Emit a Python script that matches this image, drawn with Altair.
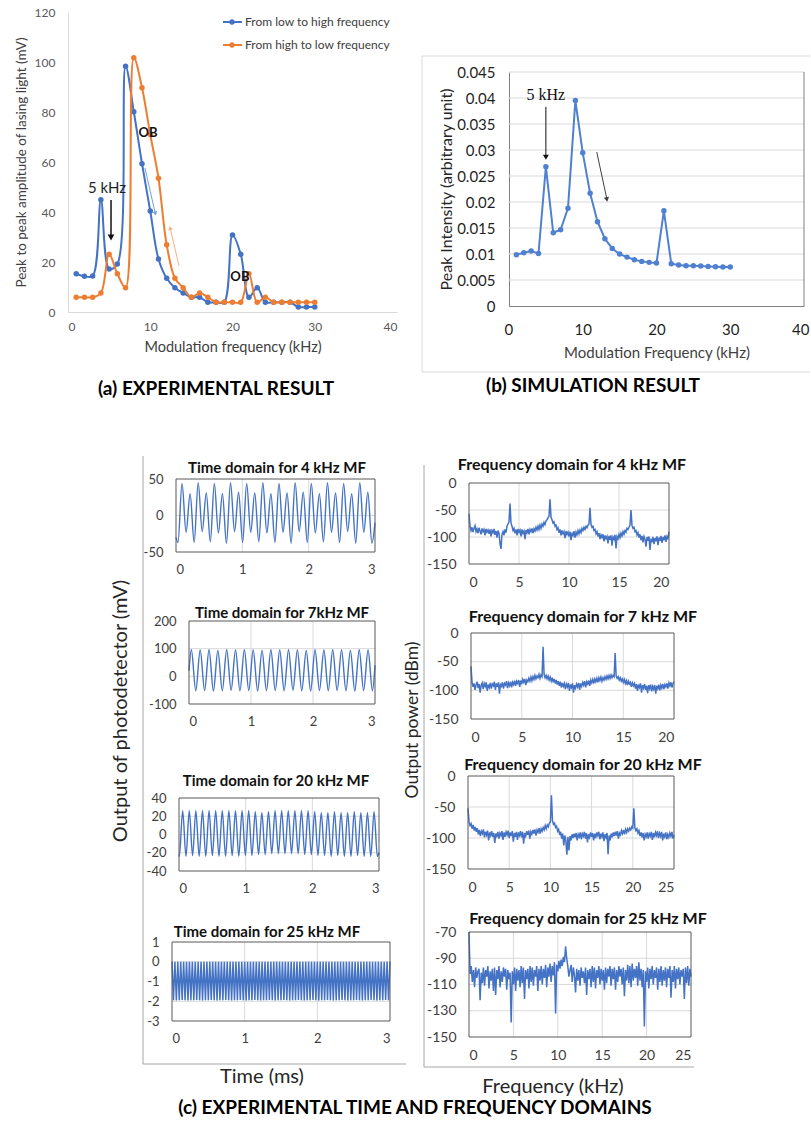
import altair as alt
import pandas as pd

W, H = 811, 1128
FONT = "Lato"
SERIF = "Liberation Serif"
BLUE = "#4472C4"
ORANGE = "#ED7D31"
SIM_BLUE = "#4F81D0"
GRID = "#D9D9D9"
FRAME = "#595959"
INK = "#1f1f1f"
LABEL = "#404040"
ONE = pd.DataFrame({"k": [0]})

# ---------------- (a) experimental sweep ----------------
mf_khz = list(range(1, 31))
SWEEP_UP = "From low to high frequency"
SWEEP_DOWN = "From high to low frequency"
low_to_high = [15.3, 14.3, 14.4, 44.9, 17.2, 19.2, 98.3, 80.1, 59.3, 40.4,
               21.2, 13.5, 9.7, 7.6, 5.9, 5.9, 3.9, 3.9, 3.9, 30.8,
               23.1, 5.9, 9.7, 3.9, 3.9, 3.9, 3.9, 2.0, 2.0, 2.0]
high_to_low = [5.9, 5.9, 5.9, 7.6, 23.1, 15.3, 9.7, 101.7, 89.7, 71.0,
               53.5, 26.9, 13.5, 9.7, 5.9, 7.6, 5.9, 3.9, 3.9, 3.9,
               3.9, 15.3, 3.9, 5.9, 3.9, 3.9, 3.9, 3.9, 3.9, 3.9]

# ---------------- (b) simulation ----------------
sim_peak = [0.00986, 0.01024, 0.01056, 0.0101, 0.02676, 0.01408, 0.01466, 0.01882, 0.0395, 0.02945,
            0.0217, 0.0162, 0.01293, 0.01107, 0.00999, 0.0094, 0.0089, 0.00858, 0.00839, 0.00826,
            0.01831, 0.00813, 0.00787, 0.00775, 0.00775, 0.00768, 0.00762, 0.00755, 0.00749, 0.00749]

# ---------------- (c) time-domain traces: successive extrema (mV) ----------------
td4_extrema = [-37, 44, -23, 30, -37, 45, -22, 31, -36, 44, -24, 30,
               -38, 45, -22, 32, -37, 44, -23, 31, -36, 45, -24, 30,
               -37, 44, -23, 31, -38, 45, -22, 32, -37, 44, -24, 30,
               -36, 45, -23, 31, -37, 44, -22, 30, -38, 45, -23, 32, -38]
td4_t0, td4_half, td4_start, td4_end = 0.03, 0.0609, -30, -10

td7_peaks = [96, 95, 96, 94, 96, 95, 96, 95, 94, 96, 95, 96, 95, 94, 96, 95, 96, 95, 94, 96, 95]
td7_troughs = [-52, -51, -53, -52, -50, -52, -51, -53, -52, -51, -52, -50, -52, -53, -51, -52, -51, -52, -53, -51, -52]
td7_t0, td7_half, td7_start, td7_end = 0.038, 0.07125, 20, 40

td20_troughs = [-24, -24, -23, -24, -24, -23, -24, -24, -23, -24, -23, -23, -22, -22, -21, -21,
                -21, -21, -21, -22, -22, -23, -23, -24, -23, -24, -24, -23, -24, -24, -24]
td20_peaks = [26, 26, 26, 26, 26, 26, 26, 26, 26, 26, 26, 25, 24, 25, 26,
              26, 26, 26, 26, 26, 25, 24, 24, 25, 24, 24, 25, 24, 24, 25]
td20_t0, td20_half, td20_start, td20_end = 0.0055, 0.0495, -22, -20

td25_peaks = [0.0, 0.0, 0.0, 0.0, 0.0, 0.0, 0.0, 0.0, 0.0, 0.0, 0.0, 0.0, 0.0, 0.0, 0.0, 0.0, 0.0, 0.0, 0.0,
              0.0, 0.0, 0.0, 0.0, 0.0, 0.0, 0.0, 0.0, 0.0, 0.0, 0.0, 0.0, 0.0, 0.0, 0.0, 0.0, 0.0, 0.0, 0.0,
              0.0, 0.0, 0.0, 0.0, 0.0, 0.0, 0.0, 0.0, 0.0, 0.0, 0.0, 0.0, 0.0, 0.0, 0.0, 0.0, 0.0, 0.0, 0.0,
              0.0, 0.0, 0.0, 0.0, 0.0, 0.0, 0.0, 0.0, 0.0, 0.0, 0.0, 0.0, 0.0, 0.0, 0.0, 0.0, 0.0, 0.0, 0.0]
td25_troughs = [-1.95, -1.96, -1.95, -1.94, -1.95, -1.96, -1.95, -1.95, -1.94, -1.95, -1.96, -1.95, -1.95, -1.94, -1.95,
                -1.96, -1.95, -1.95, -1.94, -1.95, -1.96, -1.95, -1.95, -1.94, -1.95, -1.96, -1.95, -1.95, -1.94, -1.95,
                -1.96, -1.95, -1.95, -1.94, -1.95, -1.96, -1.95, -1.95, -1.94, -1.95, -1.96, -1.95, -1.95, -1.94, -1.95,
                -1.96, -1.95, -1.95, -1.94, -1.95, -1.96, -1.95, -1.95, -1.94, -1.95, -1.96, -1.95, -1.95, -1.94, -1.95,
                -1.96, -1.95, -1.95, -1.94, -1.95, -1.96, -1.95, -1.95, -1.94, -1.95, -1.96, -1.95, -1.95, -1.94, -1.95]
td25_half = 0.02

# ---------------- (c) spectra (dBm) ----------------
# 4 kHz and 7 kHz MF: 0.1 kHz bins from 0 to 20 kHz (one row per kHz)
fd4 = [-57, -80, -88, -82, -91, -84, -79, -90, -85, -93,
       -83, -89, -95, -84, -90, -86, -97, -85, -91, -87,
       -94, -86, -99, -88, -92, -85, -96, -89, -101, -88,
       -93, -112, -122, -95, -90, -97, -86, -92, -80, -76,
       -72, -38, -74, -80, -88, -84, -93, -86, -97, -85,
       -91, -87, -99, -86, -93, -89, -104, -87, -92, -85,
       -95, -86, -90, -84, -93, -85, -89, -82, -87, -80,
       -86, -78, -84, -76, -80, -73, -77, -70, -68, -64,
       -62, -30, -63, -68, -74, -72, -80, -78, -86, -83,
       -92, -86, -97, -88, -94, -90, -102, -89, -95, -91,
       -99, -90, -106, -92, -97, -89, -101, -91, -96, -88,
       -94, -87, -92, -84, -88, -82, -86, -80, -83, -78,
       -76, -46, -77, -82, -80, -88, -86, -94, -90, -99,
       -93, -104, -96, -101, -95, -108, -97, -103, -99, -112,
       -98, -105, -97, -116, -100, -104, -96, -121, -99, -103,
       -95, -101, -93, -98, -90, -95, -88, -91, -84, -86,
       -82, -78, -50, -79, -84, -82, -90, -88, -96, -92,
       -101, -95, -106, -98, -110, -99, -104, -118, -100, -107,
       -99, -124, -103, -110, -100, -113, -102, -108, -99, -115,
       -101, -107, -98, -111, -100, -106, -97, -109, -99, -104,
       -90]
fd7 = [-58, -86, -94, -88, -99, -90, -85, -96, -89, -104,
       -91, -87, -98, -88, -93, -86, -101, -90, -95, -87,
       -97, -89, -92, -85, -99, -88, -94, -86, -106, -90,
       -93, -86, -97, -88, -91, -84, -96, -87, -92, -85,
       -95, -86, -90, -83, -92, -84, -88, -82, -94, -83,
       -89, -81, -86, -80, -91, -82, -85, -79, -84, -77,
       -83, -76, -81, -74, -80, -75, -78, -72, -79, -73,
       -76, -24, -72, -78, -74, -80, -75, -82, -77, -84,
       -78, -86, -80, -88, -82, -90, -84, -92, -85, -95,
       -87, -93, -88, -98, -89, -94, -87, -101, -90, -95,
       -88, -104, -91, -96, -89, -94, -87, -99, -88, -93,
       -86, -91, -84, -95, -85, -89, -83, -92, -82, -87,
       -81, -88, -80, -85, -79, -86, -78, -83, -77, -84,
       -78, -82, -76, -81, -75, -80, -74, -79, -73, -78,
       -74, -76, -35, -75, -79, -76, -82, -78, -84, -80,
       -86, -81, -88, -83, -91, -84, -89, -86, -94, -87,
       -92, -88, -97, -89, -101, -90, -95, -88, -104, -91,
       -96, -89, -99, -92, -105, -91, -97, -90, -102, -93,
       -98, -91, -106, -92, -97, -90, -100, -91, -96, -89,
       -98, -90, -94, -88, -97, -87, -92, -86, -95, -88,
       -85]
# 20 kHz and 25 kHz MF: 0.125 kHz bins from 0 to 25 kHz (one row per kHz)
fd20 = [-52, -74, -80, -77, -85, -79, -88, -82,
        -90, -84, -94, -87, -97, -89, -93, -86,
        -99, -90, -95, -88, -104, -91, -96, -89,
        -98, -92, -108, -93, -97, -90, -101, -92,
        -96, -89, -103, -91, -98, -90, -95, -88,
        -100, -91, -97, -89, -106, -92, -98, -90,
        -103, -91, -96, -89, -99, -90, -109, -92,
        -97, -89, -95, -88, -101, -90, -94, -87,
        -93, -86, -96, -87, -91, -84, -93, -85,
        -89, -83, -87, -80, -85, -79, -82, -76,
        -74, -31, -72, -78, -76, -83, -81, -89,
        -86, -95, -90, -101, -93, -112, -96, -104,
        -127, -98, -120, -97, -104, -94, -100, -93,
        -99, -92, -104, -94, -98, -91, -102, -93,
        -97, -90, -101, -92, -107, -94, -99, -91,
        -98, -92, -104, -93, -100, -91, -96, -90,
        -102, -93, -98, -91, -105, -94, -99, -92,
        -126, -96, -104, -93, -99, -91, -97, -90,
        -96, -89, -101, -92, -95, -88, -93, -87,
        -94, -86, -91, -85, -89, -84, -87, -82,
        -84, -52, -83, -88, -85, -92, -88, -97,
        -91, -99, -92, -104, -94, -98, -91, -101,
        -93, -97, -90, -103, -92, -99, -91, -96,
        -89, -100, -92, -97, -90, -104, -93, -98,
        -91, -102, -94, -99, -92, -97, -90, -101,
        -95]
fd25 = [-70, -102, -96, -108, -99, -112, -97, -105,
        -100, -98, -122, -101, -109, -97, -111, -99,
        -104, -96, -113, -100, -107, -98, -115, -97,
        -118, -99, -106, -96, -112, -100, -108, -97,
        -104, -98, -114, -99, -106, -101, -139, -100,
        -110, -97, -115, -98, -107, -99, -112, -96,
        -109, -97, -121, -99, -106, -98, -113, -96,
        -108, -97, -111, -99, -104, -96, -115, -98,
        -107, -96, -110, -98, -105, -95, -112, -97,
        -104, -94, -108, -96, -103, -93, -132, -95,
        -100, -92, -98, -91, -96, -89, -93, -81,
        -90, -96, -104, -99, -95, -108, -97, -103,
        -116, -98, -107, -99, -111, -97, -105, -100,
        -109, -97, -118, -99, -106, -98, -112, -96,
        -108, -97, -113, -99, -105, -96, -110, -98,
        -107, -99, -114, -97, -109, -98, -104, -96,
        -111, -98, -106, -97, -114, -99, -108, -96,
        -104, -98, -110, -97, -119, -99, -107, -95,
        -109, -96, -112, -94, -107, -98, -105, -96,
        -111, -93, -107, -98, -112, -99, -142, -100,
        -108, -97, -113, -98, -106, -96, -110, -99,
        -105, -97, -114, -98, -108, -96, -111, -99,
        -107, -97, -112, -98, -105, -96, -120, -99,
        -108, -96, -113, -98, -106, -97, -110, -99,
        -104, -98, -121, -97, -109, -96, -111, -98,
        -104]


# ---------------- helpers ----------------
def txt(x, y, s, size, weight="normal", color=INK, angle=0, font=FONT, align="center", baseline="middle"):
    return alt.Chart(ONE).mark_text(text=s, fontSize=size, fontWeight=weight, color=color, angle=angle,
                                    font=font, align=align, baseline=baseline).encode(
        x=alt.value(x), y=alt.value(y))


def seg(x, y, x2, y2, color, width=1.0):
    return alt.Chart(ONE).mark_rule(color=color, strokeWidth=width).encode(
        x=alt.value(x), y=alt.value(y), x2=alt.value(x2), y2=alt.value(y2))


def dot(x, y, color, size=30):
    return alt.Chart(ONE).mark_circle(color=color, size=size, opacity=1).encode(x=alt.value(x), y=alt.value(y))


def interleave(first, second):
    out = []
    for i in range(len(first) + len(second)):
        out.append(first[i // 2] if i % 2 == 0 else second[i // 2])
    return out


def place(x_dom, x_px, y_dom, y_px, x_axis, y_axis):
    """Scales pinned to a pixel box of the page; axes moved onto that box."""
    xs = alt.Scale(domain=x_dom, range=x_px, nice=False, zero=False)
    ys = alt.Scale(domain=y_dom, range=[y_px[1], y_px[0]], nice=False, zero=False)
    xa = alt.Axis(orient="bottom", offset=y_px[1] - H, **x_axis)
    ya = alt.Axis(orient="left", offset=-x_px[0], **y_axis)

    def X(field):
        return alt.X(f"{field}:Q", scale=xs, axis=xa)

    def Y(field):
        return alt.Y(f"{field}:Q", scale=ys, axis=ya)
    return X, Y


def data_text(X, Y, xv, yv, s, size, weight="normal", color=INK, font=FONT):
    df = pd.DataFrame({"u": [xv], "v": [yv]})
    return alt.Chart(df).mark_text(text=s, fontSize=size, fontWeight=weight, color=color, font=font).encode(
        x=X("u"), y=Y("v"))


def data_arrow(X, Y, x0, y0, x1, y1, hx, hy, color, width, shape, angle, size):
    seg_df = pd.DataFrame({"u": [x0], "v": [y0], "u2": [x1], "v2": [y1]})
    head_df = pd.DataFrame({"u": [hx], "v": [hy]})
    line = alt.Chart(seg_df).mark_rule(color=color, strokeWidth=width).encode(
        x=X("u"), y=Y("v"), x2="u2:Q", y2="v2:Q")
    head = alt.Chart(head_df).mark_point(shape=shape, filled=True, size=size, angle=angle,
                                         color=color, opacity=1).encode(x=X("u"), y=Y("v"))
    return [line, head]


# ---------------- chart (a) ----------------
aX, aY = place([0, 40], [68, 397], [0, 120], [12, 312],
               dict(values=[0, 10, 20, 30, 40], title="Modulation frequency (kHz)", domain=True,
                    domainColor=GRID, labelFontSize=12, titleFontSize=14.5, labelPadding=9, titlePadding=8,
                    labelColor="#595959", titleColor="#404040", labelOverlap=False, minExtent=0),
               dict(values=[0, 20, 40, 60, 80, 100, 120], title="Peak to peak amplitude of lasing light (mV)",
                    domain=True, domainColor=GRID, labelFontSize=12, titleFontSize=13.5, labelPadding=13,
                    titlePadding=6, labelColor="#595959", titleColor="#404040", labelOverlap=False, minExtent=0))


def sweep(vals, color):
    base = alt.Chart(pd.DataFrame({"f": mf_khz, "amp": vals})).encode(x=aX("f"), y=aY("amp"))
    return [base.mark_line(color=color, strokeWidth=2, interpolate="catmull-rom"),
            base.mark_circle(color=color, size=30, opacity=1)]


a_layers = sweep(low_to_high, BLUE) + sweep(high_to_low, ORANGE)
a_layers += [data_text(aX, aY, 4.74, 49.6, "5 kHz", 15),
             data_text(aX, aY, 9.73, 71.6, "OB", 13, "bold", "#111111"),
             data_text(aX, aY, 20.9, 14.0, "OB", 13, "bold", "#111111")]
a_layers += data_arrow(aX, aY, 5.23, 44.8, 5.23, 30.5, 5.23, 29.8, "#111111", 1.5, "triangle-down", 0, 45)
a_layers += data_arrow(aX, aY, 9.36, 57.6, 10.6, 39.6, 10.62, 39.4, "#6FA0DC", 1, "triangle-down", 347, 22)
a_layers += data_arrow(aX, aY, 13.5, 18.4, 12.45, 33.2, 12.42, 33.6, "#F4B183", 1, "triangle-up", 347, 22)
chart_a = alt.layer(*a_layers)

legend_a = []
for ly, color, label in [(22, BLUE, SWEEP_UP), (45, ORANGE, SWEEP_DOWN)]:
    legend_a += [seg(223, ly, 242, ly, color, 2), dot(232, ly, color, 28),
                 txt(245, ly, label, 12, color="#404040", align="left")]

# ---------------- chart (b) ----------------
b_ticks = [0, 0.005, 0.01, 0.015, 0.02, 0.025, 0.03, 0.035, 0.04, 0.045]
bX, bY = place([0, 40], [509, 804], [0, 0.045], [72, 306],
               dict(values=[0, 10, 20, 30, 40], title="Modulation Frequency (kHz)", domain=True,
                    domainColor="#808080", labelFontSize=15, titleFontSize=15, labelPadding=16, titlePadding=8,
                    labelColor=INK, titleColor="#404040", labelFlush=True, labelFlushOffset=5,
                    labelOverlap=False, minExtent=0),
               dict(values=b_ticks, title="Peak Intensity (arbitrary unit)", domain=True, domainColor="#808080",
                    labelFontSize=15, titleFontSize=16, labelPadding=14, titlePadding=2, labelColor=INK,
                    titleColor="#262626", labelExpr="'' + datum.value", labelOverlap=False, minExtent=0))
b_grid = pd.DataFrame({"u": [0] * 9, "u2": [40] * 9, "v": b_ticks[1:]})
b_base = alt.Chart(pd.DataFrame({"f": mf_khz, "pi": sim_peak})).encode(x=bX("f"), y=bY("pi"))
b_layers = [alt.Chart(b_grid).mark_rule(color=GRID, strokeWidth=1).encode(x=bX("u"), x2="u2:Q", y=bY("v")),
            alt.Chart(pd.DataFrame({"u": [40], "v": [0], "v2": [0.045]})).mark_rule(
                color="#808080", strokeWidth=1).encode(x=bX("u"), y=bY("v"), y2="v2:Q"),
            b_base.mark_line(color=SIM_BLUE, strokeWidth=2),
            b_base.mark_circle(color=SIM_BLUE, size=30, opacity=1),
            data_text(bX, bY, 5.0, 0.0406, "5 kHz", 16, font=SERIF, color="#111111")]
b_layers += data_arrow(bX, bY, 5.0, 0.0383, 5.0, 0.0288, 5.0, 0.0286, "#111111", 1, "triangle-down", 0, 35)
b_layers += data_arrow(bX, bY, 11.9, 0.0296, 13.25, 0.0207, 13.27, 0.0205, "#404040", 1, "triangle-down", 349, 28)
chart_b = alt.layer(*b_layers)


# ---------------- (c) panels ----------------
def panel(xs, ys, x_dom, x_vals, y_dom, y_vals, x_px, y_px, lab_size, interp, line_w):
    ax = dict(values=x_vals, title=None, labelFontSize=lab_size, labelPadding=11, labelColor=LABEL,
              labelExpr="'' + datum.value", labelOverlap=False)
    ay = dict(values=y_vals, title=None, labelFontSize=lab_size, labelPadding=13, labelColor=LABEL,
              labelExpr="'' + datum.value", labelOverlap=False)
    X, Y = place(x_dom, x_px, y_dom, y_px, ax, ay)
    vgrid = pd.DataFrame({"u": x_vals[1:-1], "v": [y_dom[0]] * (len(x_vals) - 2), "v2": [y_dom[1]] * (len(x_vals) - 2)})
    hgrid = pd.DataFrame({"u": [x_dom[0]] * (len(y_vals) - 2), "u2": [x_dom[1]] * (len(y_vals) - 2), "v": y_vals[1:-1]})
    box = pd.DataFrame({"u": [x_dom[0]], "u2": [x_dom[1]], "v": [y_dom[0]], "v2": [y_dom[1]]})
    return alt.layer(
        alt.Chart(vgrid).mark_rule(color=GRID, strokeWidth=1).encode(x=X("u"), y=Y("v"), y2="v2:Q"),
        alt.Chart(hgrid).mark_rule(color=GRID, strokeWidth=1).encode(x=X("u"), x2="u2:Q", y=Y("v")),
        alt.Chart(pd.DataFrame({"u": xs, "v": ys})).mark_line(
            color=BLUE, strokeWidth=line_w, interpolate=interp).encode(x=X("u"), y=Y("v")),
        alt.Chart(box).mark_rect(fillOpacity=0, stroke=FRAME, strokeWidth=1).encode(
            x=X("u"), x2="u2:Q", y=Y("v"), y2="v2:Q"),
    )


t4_times = [0.0] + [round(td4_t0 + td4_half * k, 4) for k in range(len(td4_extrema))] + [3.0]
t4_vals = [td4_start] + td4_extrema + [td4_end]
e7 = interleave(td7_peaks, td7_troughs)
t7_times = [0.0] + [round(td7_t0 + td7_half * k, 4) for k in range(len(e7))] + [3.0]
t7_vals = [td7_start] + e7 + [td7_end]
e20 = interleave(td20_troughs, td20_peaks)
t20_times = [0.0] + [round(td20_t0 + td20_half * k, 4) for k in range(len(e20))] + [3.0]
t20_vals = [td20_start] + e20 + [td20_end]
e25 = interleave(td25_peaks, td25_troughs)
t25_times = [round(td25_half * k, 4) for k in range(len(e25))]

tx = [0, 1, 2, 3]
f20x = [round(0.1 * i, 2) for i in range(len(fd4))]
f25x = [round(0.125 * i, 3) for i in range(len(fd20))]
dbm = [-150, -100, -50, 0]

panels = [
    panel(t4_times, t4_vals, [0, 3], tx, [-50, 50], [-50, 0, 50], [176, 375], [479, 552], 13, "monotone", 1.4),
    panel(t7_times, t7_vals, [0, 3], tx, [-100, 200], [-100, 0, 100, 200], [189, 375], [621, 704], 13, "monotone", 1.4),
    panel(t20_times, t20_vals, [0, 3], tx, [-40, 40], [-40, -20, 0, 20, 40], [179, 379], [798, 871], 13, "monotone", 1.4),
    panel(t25_times, e25, [0, 3], tx, [-3, 1], [-3, -2, -1, 0, 1], [172, 390], [942, 1021], 13, "linear", 1.5),
    panel(f20x, fd4, [0, 20], [0, 5, 10, 15, 20], [-150, 0], dbm, [469, 669], [483, 564], 14, "linear", 1.5),
    panel(f20x, fd7, [0, 20], [0, 5, 10, 15, 20], [-150, 0], dbm, [471, 674], [633, 719], 14, "linear", 1.5),
    panel(f25x, fd20, [0, 25], [0, 5, 10, 15, 20, 25], [-150, 0], dbm, [468, 674], [776, 869], 14, "linear", 1.5),
    panel(f25x, fd25, [0, 25], [0, 5, 10, 15, 20, 25], [-150, -70], [-150, -130, -110, -90, -70],
          [469, 691], [932, 1037], 14, "linear", 1.5),
]

panel_titles = [
    txt(277, 473, "Time domain for 4 kHz MF", 15, "bold", "#111111", baseline="alphabetic"),
    txt(282, 618, "Time domain for 7kHz MF", 15, "bold", "#111111", baseline="alphabetic"),
    txt(276, 786, "Time domain for 20 kHz MF", 15, "bold", "#111111", baseline="alphabetic"),
    txt(267, 937, "Time domain for 25 kHz MF", 15, "bold", "#111111", baseline="alphabetic"),
    txt(572, 470, "Frequency domain for 4 kHz MF", 16, "bold", "#111111", baseline="alphabetic"),
    txt(583, 622, "Frequency domain for 7 kHz MF", 16, "bold", "#111111", baseline="alphabetic"),
    txt(583, 770, "Frequency domain for 20 kHz MF", 16, "bold", "#111111", baseline="alphabetic"),
    txt(588, 924, "Frequency domain for 25 kHz MF", 16, "bold", "#111111", baseline="alphabetic"),
]

# ---------------- page-level frames, captions and shared titles ----------------
frames = [
    seg(422, 56, 810, 56, GRID), seg(422, 56, 422, 372, GRID), seg(422, 372, 810, 372, GRID),
    seg(143, 456, 143, 1064, "#A6A6A6"), seg(143, 1064, 406, 1064, "#A6A6A6"),
    seg(424, 465, 424, 1067, "#A6A6A6"), seg(424, 1067, 694, 1067, "#A6A6A6"),
]
captions = [
    txt(216, 389, "(a) EXPERIMENTAL RESULT", 19, "bold", "#000000"),
    txt(593, 386, "(b) SIMULATION RESULT", 19, "bold", "#000000"),
    txt(415, 1108, "(c) EXPERIMENTAL TIME AND FREQUENCY DOMAINS", 19, "bold", "#000000"),
    txt(121, 711, "Output of photodetector (mV)", 20, angle=270, color="#262626"),
    txt(413, 720, "Output power (dBm)", 17.5, angle=270, color="#262626"),
    txt(262, 1077, "Time (ms)", 20, color="#262626"),
    txt(553, 1087, "Frequency (kHz)", 20, color="#262626"),
]

chart = alt.layer(*frames, chart_a, chart_b, *panels, *legend_a, *panel_titles, *captions).resolve_scale(
    x="independent", y="independent").resolve_axis(x="independent", y="independent").properties(
    width=W, height=H, padding=0, autosize=alt.AutoSizeParams(type="none"), background="white"
).configure_view(strokeWidth=0).configure_axis(
    labelFont=FONT, titleFont=FONT, ticks=False, tickSize=0, titleFontWeight="normal", grid=False, domain=False
).configure_text(font=FONT)

chart.save("out.html", embed_options={"renderer": "svg", "actions": False})
